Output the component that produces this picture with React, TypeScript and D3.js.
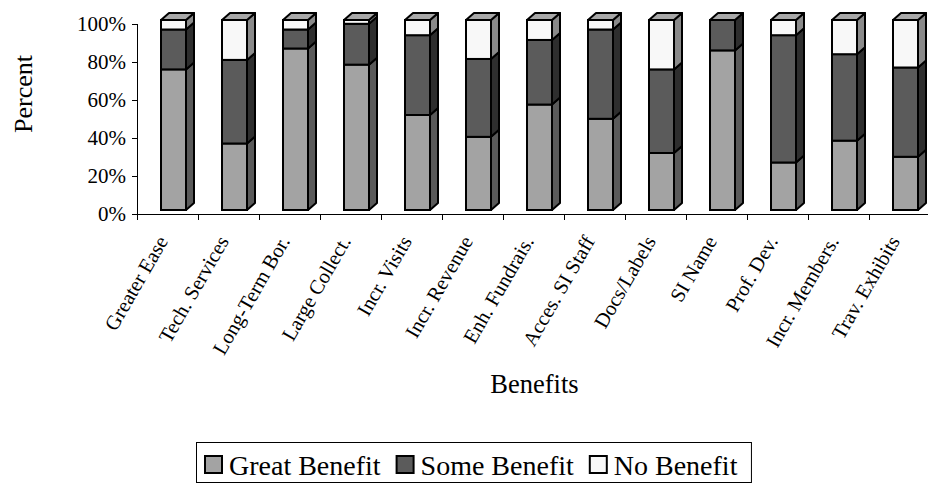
import React, { useEffect, useRef } from "react";
import * as d3 from "d3";

// Benefit categories along the x axis
const categories = [
  "Greater Ease",
  "Tech. Services",
  "Long-Term Bor.",
  "Large Collect.",
  "Incr. Visits",
  "Incr. Revenue",
  "Enh. Fundrais.",
  "Acces. SI Staff",
  "Docs/Labels",
  "SI Name",
  "Prof. Dev.",
  "Incr. Members.",
  "Trav. Exhibits",
];

// Share of respondents (%) per category
const greatBenefit = [74, 35, 85, 76.5, 50, 38.5, 55.5, 48, 30, 84, 25, 36.5, 28];
const someBenefit = [21, 44, 10, 21.5, 42, 41, 34, 47, 44, 16, 67, 45.5, 47];
const noBenefit = [5, 21, 5, 2, 8, 20.5, 10.5, 5, 26, 0, 8, 18, 25];

const seriesNames = ["Great Benefit", "Some Benefit", "No Benefit"];
const yTickValues = [0, 20, 40, 60, 80, 100];
const yTickLabels = ["0%", "20%", "40%", "60%", "80%", "100%"];

const FONT = '"Liberation Serif", "Times New Roman", serif';

// front / side / top shading for each series
const frontColors = ["#a3a3a3", "#5b5b5b", "#f8f8f8"];
const sideColors = ["#5a5a5a", "#2e2e2e", "#8a8a8a"];
const topColor = "#a8a8a8";

export default function App() {
  const ref = useRef<SVGSVGElement | null>(null);

  useEffect(() => {
    const svg = d3.select(ref.current);
    svg.selectAll("*").remove();

    const W = 928;
    const H = 483;
    const left = 137;
    const step = 61;

    const x = d3
      .scaleBand<string>()
      .domain(categories)
      .range([left, left + step * categories.length])
      .padding(0);

    const y = d3.scaleLinear().domain([0, 100]).range([214, 24]);

    // bars sit slightly behind the axis plane
    const depthX = 8;
    const depthY = 7;
    const planeShiftY = -4;
    const barOffset = 24;
    const barW = 25;
    const yb = (v: number) => y(v) + planeShiftY;

    svg.attr("width", W).attr("height", H);

    const series = [greatBenefit, someBenefit, noBenefit];
    const stackData = categories.map((c, i) => ({
      cat: c,
      vals: series.map((s) => s[i]),
    }));

    const bars = svg.append("g");
    stackData.forEach((d) => {
      const fx = (x(d.cat) as number) + barOffset;
      let base = 0;
      const g = bars.append("g");
      const segs: { v0: number; v1: number; k: number }[] = [];
      d.vals.forEach((v, k) => {
        if (v > 0) segs.push({ v0: base, v1: base + v, k });
        base += v;
      });
      segs.forEach((s) => {
        const y0 = yb(s.v0);
        const y1 = yb(s.v1);
        // side face
        g.append("path")
          .attr(
            "d",
            `M${fx + barW},${y1} L${fx + barW + depthX},${y1 - depthY} L${fx + barW + depthX},${y0 - depthY} L${fx + barW},${y0} Z`
          )
          .attr("fill", sideColors[s.k])
          .attr("stroke", "#000")
          .attr("stroke-width", 2)
          .attr("stroke-linejoin", "round");
        // front face
        g.append("rect")
          .attr("x", fx)
          .attr("y", y1)
          .attr("width", barW)
          .attr("height", y0 - y1)
          .attr("fill", frontColors[s.k])
          .attr("stroke", "#000")
          .attr("stroke-width", 2);
      });
      const yt = yb(base);
      g.append("path")
        .attr(
          "d",
          `M${fx},${yt} L${fx + depthX},${yt - depthY} L${fx + barW + depthX},${yt - depthY} L${fx + barW},${yt} Z`
        )
        .attr("fill", topColor)
        .attr("stroke", "#000")
        .attr("stroke-width", 2)
        .attr("stroke-linejoin", "round");
    });

    // y axis
    const yAxis = svg.append("g");
    yAxis
      .append("line")
      .attr("x1", left + 0.5)
      .attr("x2", left + 0.5)
      .attr("y1", y(100))
      .attr("y2", y(0) + 6)
      .attr("stroke", "#000");
    yTickValues.forEach((t, i) => {
      yAxis
        .append("line")
        .attr("x1", left - 5)
        .attr("x2", left)
        .attr("y1", Math.round(y(t)) + 0.5)
        .attr("y2", Math.round(y(t)) + 0.5)
        .attr("stroke", "#000");
      yAxis
        .append("text")
        .attr("x", left - 11)
        .attr("y", y(t))
        .attr("dy", "0.35em")
        .attr("text-anchor", "end")
        .attr("font-family", FONT)
        .attr("font-size", 21)
        .text(yTickLabels[i]);
    });

    // x axis
    const xAxis = svg.append("g");
    xAxis
      .append("line")
      .attr("x1", left)
      .attr("x2", left + step * categories.length)
      .attr("y1", y(0) + 0.5)
      .attr("y2", y(0) + 0.5)
      .attr("stroke", "#000");
    categories.forEach((c) => {
      const bx = x(c) as number;
      xAxis
        .append("line")
        .attr("x1", bx + step + 0.5)
        .attr("x2", bx + step + 0.5)
        .attr("y1", y(0))
        .attr("y2", y(0) + 6)
        .attr("stroke", "#000");
      const cx = bx + x.bandwidth() / 2 + 1;
      xAxis
        .append("text")
        .attr("transform", `translate(${cx},${y(0) + 27}) rotate(-60)`)
        .attr("text-anchor", "end")
        .attr("font-family", FONT)
        .attr("font-size", 20.5)
        .text(c);
    });

    // axis titles
    svg
      .append("text")
      .attr("transform", `translate(32,94) rotate(-90)`)
      .attr("text-anchor", "middle")
      .attr("font-family", FONT)
      .attr("font-size", 26)
      .text("Percent");
    svg
      .append("text")
      .attr("x", 534.5)
      .attr("y", 393)
      .attr("text-anchor", "middle")
      .attr("font-family", FONT)
      .attr("font-size", 26.5)
      .text("Benefits");

    // legend
    const legend = svg.append("g");
    const box = legend
      .append("rect")
      .attr("x", 196.5)
      .attr("y", 442.5)
      .attr("height", 40)
      .attr("fill", "#fff")
      .attr("stroke", "#000")
      .attr("stroke-width", 1);
    let lx = 205;
    seriesNames.forEach((name, k) => {
      legend
        .append("rect")
        .attr("x", lx)
        .attr("y", 456)
        .attr("width", 17)
        .attr("height", 17)
        .attr("fill", frontColors[k])
        .attr("stroke", "#000")
        .attr("stroke-width", 2);
      const t = legend
        .append("text")
        .attr("x", lx + 24)
        .attr("y", 475)
        .attr("font-family", FONT)
        .attr("font-size", 28)
        .text(name);
      const w = (t.node() as SVGTextElement).getComputedTextLength();
      lx = lx + 24 + w + 16;
    });
    box.attr("width", lx - 16 + 14 - 196.5);
  }, []);

  return (
    <svg
      ref={ref}
      width={928}
      height={483}
      style={{ position: "absolute", left: 0, top: 0, background: "#fff" }}
    />
  );
}
